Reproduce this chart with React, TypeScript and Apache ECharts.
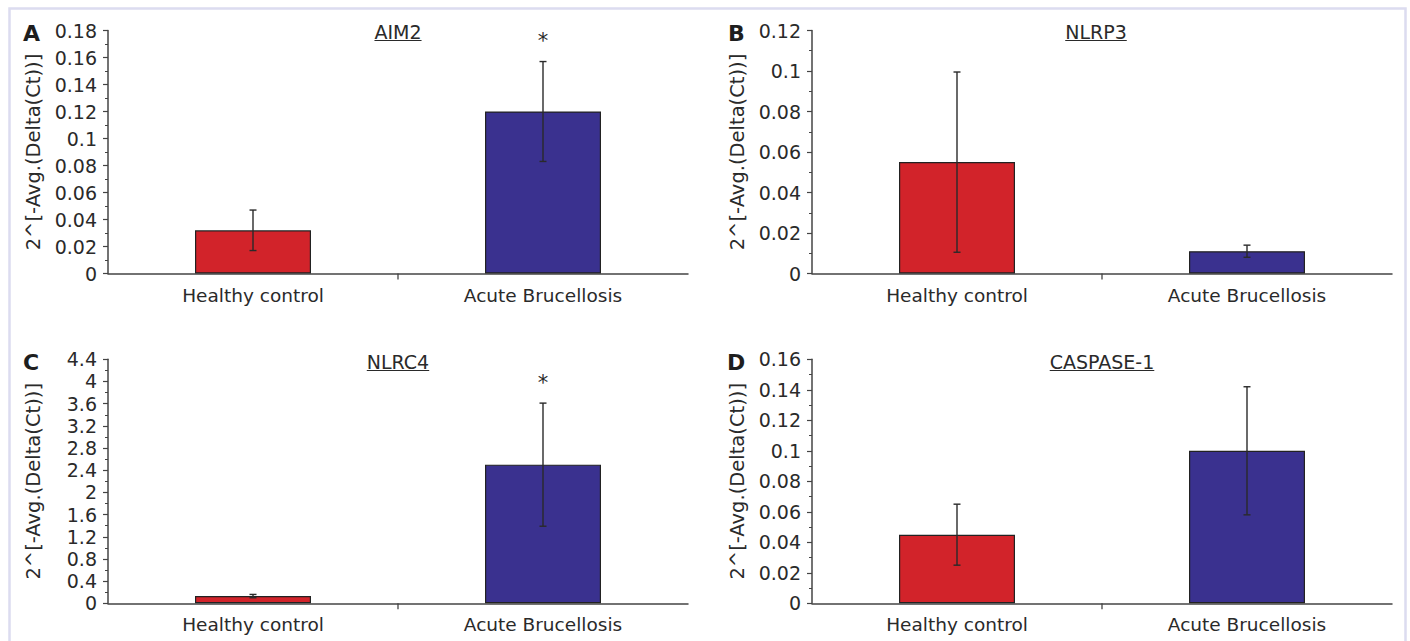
import React, { useEffect, useRef } from "react";
import * as echarts from "echarts";

const categories = ["Healthy control", "Acute Brucellosis"];
const panelLetters = ["A", "B", "C", "D"];
const panelTitles = ["AIM2", "NLRP3", "NLRC4", "CASPASE-1"];

const aim2Means = [0.032, 0.12];
const aim2Errors = [0.015, 0.037];
const aim2Sig = ["", "*"];

const nlrp3Means = [0.055, 0.011];
const nlrp3Errors = [0.0445, 0.003];
const nlrp3Sig = ["", ""];

const nlrc4Means = [0.13, 2.5];
const nlrc4Errors = [0.03, 1.11];
const nlrc4Sig = ["", "*"];

const caspaseMeans = [0.045, 0.1];
const caspaseErrors = [0.02, 0.042];
const caspaseSig = ["", ""];

const yMaxes = [0.18, 0.12, 4.4, 0.16];
const yIntervals = [0.02, 0.02, 0.4, 0.02];
const yAxisName = "2^[-Avg.(Delta(Ct))]";
const barColors = ["#d2232a", "#3a318f"];

const FONT = "DejaVu Sans";
const TEXT = "#2a2a2a";
const AXIS = "#444444";

const panels = [
  { means: aim2Means, errors: aim2Errors, sig: aim2Sig },
  { means: nlrp3Means, errors: nlrp3Errors, sig: nlrp3Sig },
  { means: nlrc4Means, errors: nlrc4Errors, sig: nlrc4Sig },
  { means: caspaseMeans, errors: caspaseErrors, sig: caspaseSig },
];

const gridBoxes = [
  { left: 108, top: 30.5, width: 580, height: 243 },
  { left: 812, top: 30.5, width: 580, height: 243 },
  { left: 108, top: 359.3, width: 580, height: 244 },
  { left: 812, top: 359.3, width: 580, height: 244 },
];

const letterPos = [
  [31.5, 33],
  [736.5, 33],
  [31, 362],
  [736, 362],
];
const titlePos = [
  [398, 32],
  [1096, 32],
  [398, 362],
  [1102, 362],
];

export default function App() {
  const ref = useRef<HTMLDivElement>(null);
  useEffect(() => {
    if (!ref.current) return;
    const chart = echarts.init(ref.current, undefined, { renderer: "svg" });

    const grid = gridBoxes.map((g) => ({ ...g, containLabel: false }));
    const xAxis = gridBoxes.map((_, i) => ({
      type: "category",
      gridIndex: i,
      data: categories,
      boundaryGap: true,
      axisLine: { show: true, lineStyle: { color: AXIS, width: 1.5 } },
      axisTick: { show: false },
      axisLabel: { color: TEXT, fontFamily: FONT, fontSize: 18.5, margin: 12 },
    }));
    const yAxis = gridBoxes.map((_, i) => ({
      type: "value",
      gridIndex: i,
      min: 0,
      max: yMaxes[i],
      interval: yIntervals[i],
      name: yAxisName,
      nameLocation: "middle",
      nameGap: 65,
      nameTextStyle: { color: TEXT, fontFamily: FONT, fontSize: 19.5 },
      axisLine: { show: true, lineStyle: { color: AXIS, width: 1.5 } },
      axisTick: { show: true, length: 5, lineStyle: { color: AXIS, width: 1.2 } },
      minorTick: { show: true, splitNumber: 2, length: 3, lineStyle: { color: AXIS, width: 1 } },
      splitLine: { show: false },
      axisLabel: { color: TEXT, fontFamily: FONT, fontSize: 19, margin: 11 },
    }));

    const series: any[] = [];
    panels.forEach((p, i) => {
      series.push({
        type: "bar",
        xAxisIndex: i,
        yAxisIndex: i,
        barWidth: "40%",
        data: p.means.map((v, k) => ({
          value: v,
          itemStyle: { color: barColors[k], borderColor: "#222", borderWidth: 1.2 },
        })),
      });
      series.push({
        type: "custom",
        xAxisIndex: i,
        yAxisIndex: i,
        z: 5,
        data: p.means.map((v, k) => [k, v, p.errors[k]]),
        renderItem: (params: any, api: any) => {
          const x = api.value(0);
          const m = api.value(1);
          const e = api.value(2);
          const top = api.coord([x, m + e]);
          const bot = api.coord([x, m - e]);
          const cap = 3.5;
          const st = { stroke: "#2a2a2a", lineWidth: 1.4 };
          const children: any[] = [
            { type: "line", shape: { x1: top[0], y1: top[1], x2: bot[0], y2: bot[1] }, style: st },
            { type: "line", shape: { x1: top[0] - cap, y1: top[1], x2: top[0] + cap, y2: top[1] }, style: st },
            { type: "line", shape: { x1: bot[0] - cap, y1: bot[1], x2: bot[0] + cap, y2: bot[1] }, style: st },
          ];
          const s = p.sig[params.dataIndex];
          if (s) {
            children.push({
              type: "text",
              style: {
                text: s,
                x: top[0],
                y: top[1] - 10,
                align: "center",
                verticalAlign: "bottom",
                fontFamily: FONT,
                fontSize: 21,
                fill: TEXT,
              },
            });
          }
          if (params.dataIndex === 1) {
            const base = api.coord([x, 0]);
            const band = api.size([1, 0])[0];
            const dx = base[0] - band / 2;
            children.push({
              type: "line",
              shape: { x1: dx, y1: base[1], x2: dx, y2: base[1] + 6 },
              style: { stroke: AXIS, lineWidth: 1.3 },
            });
          }
          return { type: "group", children };
        },
      });
    });

    const graphic: any[] = [
      {
        type: "rect",
        shape: { x: 9.5, y: 8.5, width: 1396, height: 700 },
        style: { fill: "none", stroke: "#dcdcf0", lineWidth: 2.5 },
        silent: true,
      },
    ];
    panelLetters.forEach((L, i) => {
      graphic.push({
        type: "text",
        x: letterPos[i][0],
        y: letterPos[i][1],
        style: {
          text: L,
          align: "center",
          verticalAlign: "middle",
          fontFamily: FONT,
          fontWeight: "bold",
          fontSize: 22,
          fill: "#1e1e1e",
        },
      });
    });
    panelTitles.forEach((t, i) => {
      graphic.push({
        type: "text",
        x: titlePos[i][0],
        y: titlePos[i][1],
        style: {
          text: t,
          align: "center",
          verticalAlign: "middle",
          fontFamily: FONT,
          fontSize: 19,
          fill: TEXT,
        },
      });
      const w = (echarts.format as any).getTextRect
        ? (echarts.format as any).getTextRect(t, `19px ${FONT}`).width
        : t.length * 11.5;
      graphic.push({
        type: "line",
        shape: {
          x1: titlePos[i][0] - w / 2,
          y1: titlePos[i][1] + 8.5,
          x2: titlePos[i][0] + w / 2,
          y2: titlePos[i][1] + 8.5,
        },
        style: { stroke: TEXT, lineWidth: 1.2 },
      });
    });

    chart.setOption({
      animation: false,
      backgroundColor: "#ffffff",
      grid,
      xAxis,
      yAxis,
      series,
      graphic,
    });
    return () => chart.dispose();
  }, []);
  return (
    <div
      ref={ref}
      style={{ position: "fixed", left: 0, top: 0, width: 1410, height: 641, background: "#fff" }}
    />
  );
}
